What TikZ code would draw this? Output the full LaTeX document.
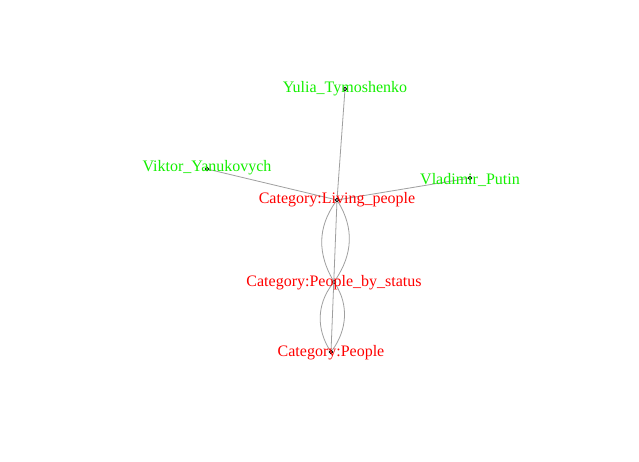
\documentclass[tikz,border=0pt]{standalone}
\usepackage{fontspec}
\setmainfont{Liberation Serif}

\begin{document}
\begin{tikzpicture}[x=1pt,y=-1pt,
  vert/.style={circle, draw=black, fill=white, inner sep=0pt, minimum size=3.5pt, line width=0.9pt},
  catlab/.style={text=red, font=\fontsize{16}{18}\selectfont, inner sep=0pt},
  perslab/.style={text={rgb,255:red,20;green,240;blue,0}, font=\fontsize{16}{18}\selectfont, inner sep=0pt},
  link/.style={draw=gray!75, line width=0.8pt}]
\useasboundingbox[fill=white] (0,0) rectangle (639,461);
% vertices:
\node[vert] (yulia) at (345,89) {};
\node[vert] (viktor) at (207,169) {};
\node[vert] (putin) at (470,178) {};
\node[vert] (living) at (337,200) {};
\node[vert] (status) at (334,282) {};
\node[vert] (people) at (331,352) {};
% edges:
\draw[link] (living) -- (yulia);
\draw[link] (living) -- (viktor);
\draw[link] (living) -- (putin);
\draw[link] (living) -- (people);
\draw[link] (living) .. controls (317,228) and (318,254) .. (status);
\draw[link] (living) .. controls (354,228) and (353,254) .. (status);
\draw[link] (status) .. controls (316,305) and (317,330) .. (people);
\draw[link] (status) .. controls (349,305) and (347,330) .. (people);
% labels:
\node[perslab] (yulialab) at (345,89) {Yulia\_Tymoshenko};
\node[perslab] (viktorlab) at (207,168) {Viktor\_Yanukovych};
\node[perslab] (putinlab) at (470,180) {Vladimir\_Putin};
\node[catlab] (livinglab) at (337,200) {Category:Living\_people};
\node[catlab] (statuslab) at (334,283) {Category:People\_by\_status};
\node[catlab] (peoplelab) at (331,353) {Category:People};
\end{tikzpicture}
\end{document}
